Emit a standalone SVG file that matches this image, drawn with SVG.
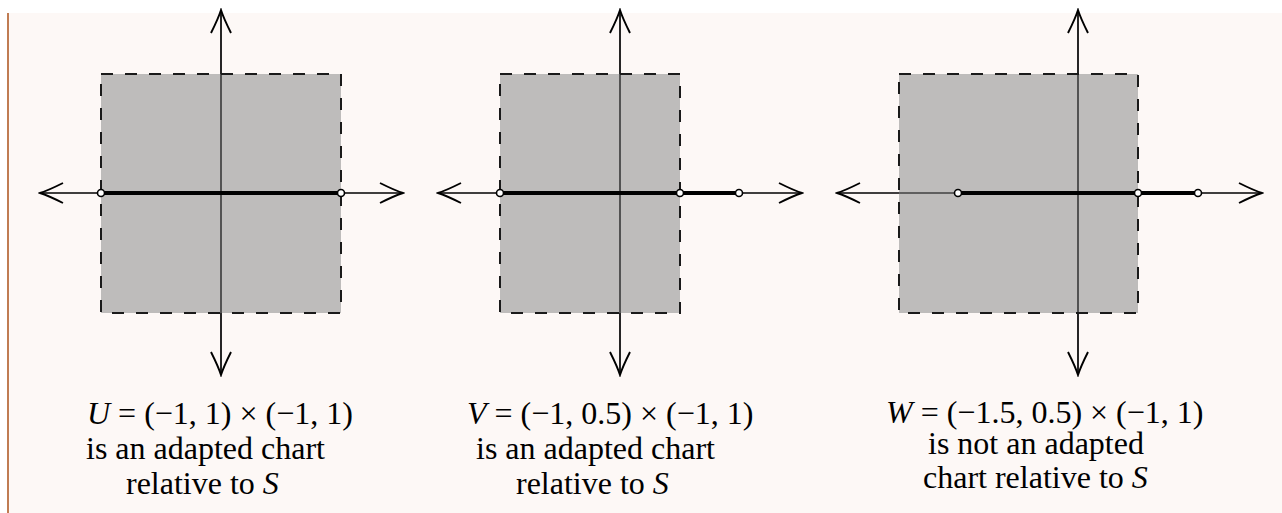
<svg xmlns="http://www.w3.org/2000/svg" width="1282" height="513" viewBox="0 0 1282 513">
  <defs>
    <style>
      .axis { stroke: #000; stroke-width: 1.7; fill: none; marker-start: url(#arr); marker-end: url(#arr); }
      .chart { fill: #808080; fill-opacity: 0.5; stroke: none; }
      .edge { fill: none; stroke: #1a1a1a; stroke-width: 2; stroke-dasharray: 12 12; }
      .seg { stroke: #000; stroke-width: 3.8; fill: none; }
      .pt { fill: #fff; stroke: #000; stroke-width: 1.6; }
    </style>
    <marker id="arr" viewBox="-26 -13 28 26" refX="0" refY="0" markerWidth="28" markerHeight="26" markerUnits="userSpaceOnUse" orient="auto-start-reverse">
      <path d="M-23,-10 Q-8,-2.5 0,0 Q-8,2.5 -23,10" fill="none" stroke="#000" stroke-width="1.9"/>
    </marker>
  </defs>

  <rect x="0" y="0" width="1282" height="513" fill="#ffffff"/>
  <rect x="8" y="13" width="1274" height="500" fill="#fdf8f6"/>
  <line x1="8" y1="13" x2="8" y2="513" stroke="#c07c52" stroke-width="2"/>

  <g id="panel-U">
    <line class="axis" x1="40" y1="193" x2="403" y2="193"/>
    <line class="axis" x1="221" y1="375" x2="221" y2="10"/>
    <rect class="chart" x="101" y="74" width="240" height="239"/>
    <rect class="edge" x="101" y="74" width="240" height="239"/>
    <line class="seg" x1="101" y1="193" x2="341" y2="193"/>
    <circle class="pt" cx="101" cy="193" r="3.5"/>
    <circle class="pt" cx="341" cy="193" r="3.5"/>
  </g>

  <g id="panel-V">
    <line class="axis" x1="438" y1="193" x2="802" y2="193"/>
    <line class="axis" x1="620" y1="375" x2="620" y2="10"/>
    <rect class="chart" x="500" y="74" width="180" height="239"/>
    <rect class="edge" x="500" y="74" width="180" height="239"/>
    <line class="seg" x1="500" y1="193" x2="740" y2="193"/>
    <circle class="pt" cx="500" cy="193" r="3.5"/>
    <circle class="pt" cx="680" cy="193" r="3.5"/>
    <circle class="pt" cx="739" cy="193" r="3.5"/>
  </g>

  <g id="panel-W">
    <line class="axis" x1="837" y1="193" x2="1262" y2="193"/>
    <line class="axis" x1="1078" y1="375" x2="1078" y2="10"/>
    <rect class="chart" x="899" y="74" width="239" height="239"/>
    <rect class="edge" x="899" y="74" width="239" height="239"/>
    <line class="seg" x1="958" y1="193" x2="1198" y2="193"/>
    <circle class="pt" cx="958" cy="193" r="3.5"/>
    <circle class="pt" cx="1138" cy="193" r="3.5"/>
    <circle class="pt" cx="1198" cy="193" r="3.5"/>
  </g>

  <g id="labels">
    <text x="87" y="424" font-family="Liberation Serif" font-size="32"><tspan font-style="italic">U</tspan> = (−1, 1) × (−1, 1)</text>
    <text x="86" y="459" font-family="Liberation Serif" font-size="32">is an adapted chart</text>
    <text x="126" y="494" font-family="Liberation Serif" font-size="32">relative to <tspan font-style="italic">S</tspan></text>
    <text x="467" y="424" font-family="Liberation Serif" font-size="32"><tspan font-style="italic">V</tspan> = (−1, 0.5) × (−1, 1)</text>
    <text x="476" y="459" font-family="Liberation Serif" font-size="32">is an adapted chart</text>
    <text x="516" y="494" font-family="Liberation Serif" font-size="32">relative to <tspan font-style="italic">S</tspan></text>
    <text x="886" y="423" font-family="Liberation Serif" font-size="32"><tspan font-style="italic">W</tspan> = (−1.5, 0.5) × (−1, 1)</text>
    <text x="928" y="454" font-family="Liberation Serif" font-size="32">is not an adapted</text>
    <text x="923" y="488" font-family="Liberation Serif" font-size="32">chart relative to <tspan font-style="italic">S</tspan></text>
  </g>
</svg>
